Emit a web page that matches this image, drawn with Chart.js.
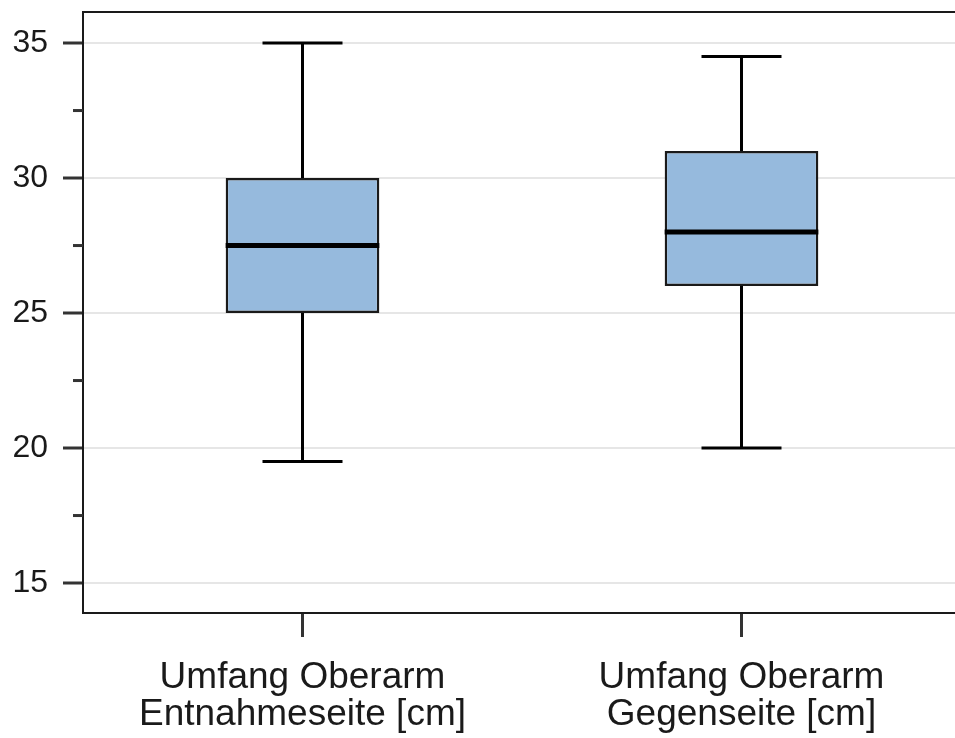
<!DOCTYPE html>
<html lang="de">
<head>
    <meta charset="UTF-8">
    <title>Umfang Oberarm</title>
    <style>
        html, body { margin: 0; padding: 0; background: #fff; overflow: hidden; }
        #wrap { width: 961px; height: 738px; }
    </style>
</head>
<body>
    <div id="wrap"><canvas id="boxChart"></canvas></div>

    <script src="https://cdn.jsdelivr.net/npm/chart.js"></script>
    <script>
        // Box plot values (cm)
        const categories = [
            ['Umfang Oberarm', 'Entnahmeseite [cm]'],
            ['Umfang Oberarm', 'Gegenseite [cm]']
        ];
        const whiskerLow  = [19.5, 20];
        const quartile1   = [25, 26];
        const median      = [27.5, 28];
        const quartile3   = [30, 31];
        const whiskerHigh = [35, 34.5];

        const yMajorTicks = [15, 20, 25, 30, 35];
        const yMinorTicks = [17.5, 22.5, 27.5, 32.5];

        const ink = '#1a1a1a';

        // whiskers + caps behind the boxes, median on top, plus frame top edge and minor ticks
        const boxPlotParts = {
            id: 'boxPlotParts',
            beforeDatasetsDraw(chart) {
                const ctx = chart.ctx;
                const x = chart.scales.x, y = chart.scales.y;
                const capHalf = 40;
                ctx.save();
                ctx.strokeStyle = '#000';
                ctx.lineWidth = 3;
                categories.forEach((c, i) => {
                    const px = x.getPixelForValue(i);
                    [[quartile3[i], whiskerHigh[i]], [quartile1[i], whiskerLow[i]]].forEach(([from, to]) => {
                        const y0 = y.getPixelForValue(from), y1 = y.getPixelForValue(to);
                        ctx.beginPath();
                        ctx.moveTo(px, y0);
                        ctx.lineTo(px, y1);
                        ctx.moveTo(px - capHalf, y1);
                        ctx.lineTo(px + capHalf, y1);
                        ctx.stroke();
                    });
                });
                ctx.restore();
            },
            afterDatasetsDraw(chart) {
                const ctx = chart.ctx;
                const y = chart.scales.y;
                const area = chart.chartArea;
                const bars = chart.getDatasetMeta(0).data;
                ctx.save();
                ctx.strokeStyle = '#000';
                ctx.lineWidth = 5;
                bars.forEach((bar, i) => {
                    const py = y.getPixelForValue(median[i]);
                    ctx.beginPath();
                    ctx.moveTo(bar.x - bar.width / 2, py);
                    ctx.lineTo(bar.x + bar.width / 2, py);
                    ctx.stroke();
                });

                // top edge of the frame
                ctx.strokeStyle = ink;
                ctx.lineWidth = 2;
                ctx.beginPath();
                ctx.moveTo(area.left - 1, area.top);
                ctx.lineTo(area.right, area.top);
                ctx.stroke();

                // short minor ticks on the y axis
                ctx.strokeStyle = '#333';
                ctx.lineWidth = 3;
                yMinorTicks.forEach(v => {
                    const py = y.getPixelForValue(v);
                    ctx.beginPath();
                    ctx.moveTo(area.left - 10, py);
                    ctx.lineTo(area.left, py);
                    ctx.stroke();
                });
                ctx.restore();
            }
        };

        new Chart(document.getElementById('boxChart'), {
            type: 'bar',
            data: {
                labels: categories,
                datasets: [{
                    data: quartile1.map((q, i) => [q, quartile3[i]]),
                    backgroundColor: '#96badd',
                    borderColor: ink,
                    borderWidth: 2.5,
                    borderSkipped: false,
                    barPercentage: 0.35,
                    categoryPercentage: 1.0
                }]
            },
            options: {
                responsive: true,
                maintainAspectRatio: false,
                animation: false,
                layout: { padding: { top: 12, left: 0, right: 0, bottom: 0 } },
                plugins: {
                    legend: { display: false },
                    tooltip: { enabled: false }
                },
                scales: {
                    x: {
                        offset: true,
                        grid: {
                            offset: false,
                            drawOnChartArea: false,
                            tickLength: 24,
                            tickColor: '#333',
                            tickWidth: 3
                        },
                        border: { display: true, color: ink, width: 2 },
                        ticks: {
                            color: ink,
                            padding: 22,
                            maxRotation: 0,
                            autoSkip: false,
                            font: { family: "'Liberation Sans', Arial, sans-serif", size: 37, lineHeight: 1.0 }
                        },
                        afterFit(scale) {
                            scale.height = 125;
                            scale.paddingLeft = 0;
                            scale.paddingRight = 0;
                        }
                    },
                    y: {
                        min: 13.89,
                        max: 36.15,
                        afterBuildTicks(scale) {
                            scale.ticks = yMajorTicks.map(v => ({ value: v }));
                        },
                        grid: {
                            color: '#e6e6e6',
                            lineWidth: 2,
                            tickLength: 20,
                            tickColor: '#333',
                            tickWidth: 3
                        },
                        border: { display: true, color: ink, width: 2 },
                        ticks: {
                            color: ink,
                            padding: 15,
                            font: { family: "'Liberation Sans', Arial, sans-serif", size: 32 }
                        },
                        afterFit(scale) {
                            scale.width = 83;
                            scale.paddingTop = 0;
                            scale.paddingBottom = 0;
                        }
                    }
                }
            },
            plugins: [boxPlotParts]
        });
    </script>
</body>
</html>
